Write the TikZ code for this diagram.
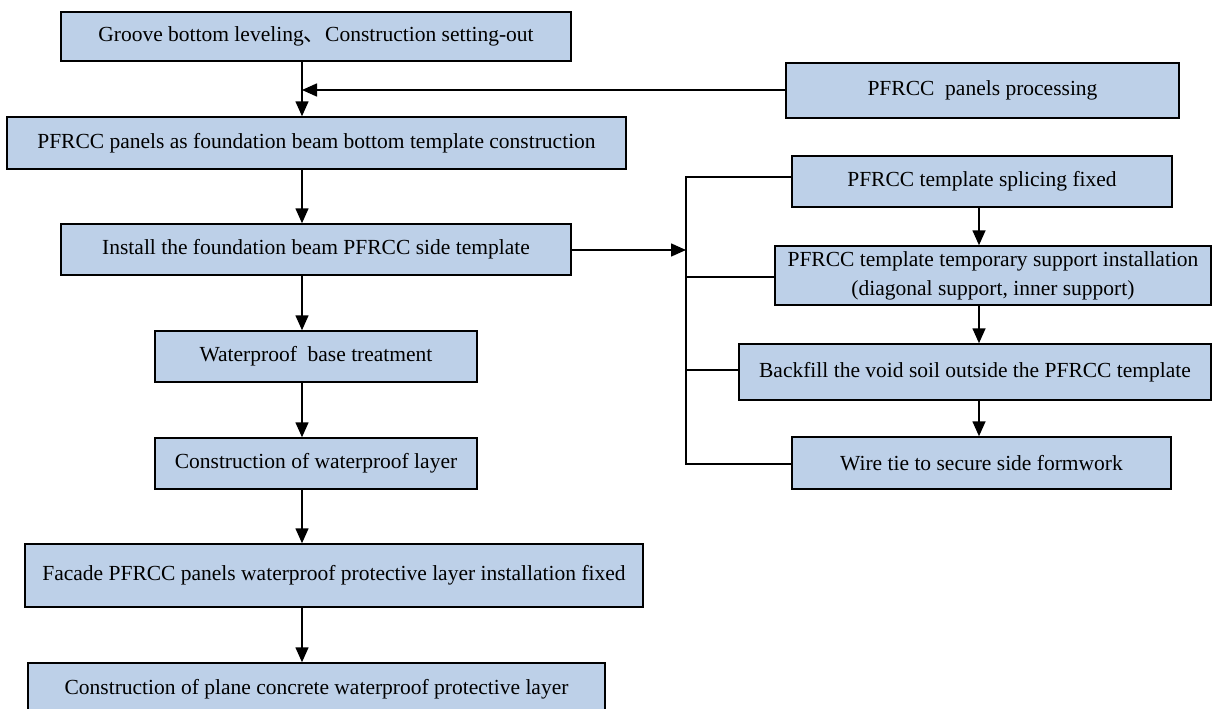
\documentclass[tikz,border=0pt]{standalone}
\usepackage{fontspec}
\setmainfont{Liberation Serif}
\newfontfamily\cjkfont{Noto Sans CJK SC}
\usetikzlibrary{arrows.meta}
\definecolor{boxfill}{RGB}{189,208,232}
\tikzset{
  box/.style={draw=black, fill=boxfill, line width=1.5pt, rectangle, inner sep=0pt,
    align=center, font=\fontsize{21.5}{29}\selectfont},
  arr/.style={line width=1.6pt, -{Triangle[length=15pt,width=13pt]}},
  ln/.style={line width=1.6pt}
}
\begin{document}
\begin{tikzpicture}[x=1pt,y=-1pt]
\useasboundingbox (0,0) rectangle (1213,709);
% main column
\node[box, minimum width=510pt, minimum height=49pt] (b1) at (316,36.5) {Groove bottom leveling{\cjkfont 、}Construction setting-out};
\node[box, minimum width=619pt, minimum height=52pt] (b2) at (316.5,143) {PFRCC panels as foundation beam bottom template construction};
\node[box, minimum width=510pt, minimum height=51pt] (b3) at (316,249.5) {Install the foundation beam PFRCC side template};
\node[box, minimum width=322pt, minimum height=51pt] (b4) at (316,356.5) {Waterproof\ \ base treatment};
\node[box, minimum width=322pt, minimum height=51pt] (b5) at (316,463.5) {Construction of waterproof layer};
\node[box, minimum width=618pt, minimum height=63pt] (b6) at (334,575.5) {Facade PFRCC panels waterproof protective layer installation fixed};
\node[box, minimum width=577pt, minimum height=52pt] (b7) at (316.5,689) {Construction of plane concrete waterproof protective layer};
% right column
\node[box, minimum width=393pt, minimum height=55pt] (proc) at (982.5,90.5) {PFRCC\ \ panels processing};
\node[box, minimum width=380pt, minimum height=51pt] (splice) at (982,181.5) {PFRCC template splicing fixed};
\node[box, minimum width=436pt, minimum height=59pt] (support) at (993,275.5) {PFRCC template temporary support installation\\(diagonal support, inner support)};
\node[box, minimum width=472pt, minimum height=56pt] (backfill) at (975,372) {Backfill the void soil outside the PFRCC template};
\node[box, minimum width=379pt, minimum height=52pt] (wire) at (981.5,463) {Wire tie to secure side formwork};
% helper coordinates
\coordinate (m) at (302,0);
\coordinate (rc) at (979,0);
\coordinate (bt) at (686,177);
\coordinate (bb) at (686,464);
\coordinate (h1) at (0,90);
\coordinate (h2) at (0,250);
\coordinate (t2) at (0,277);
\coordinate (t3) at (0,370);
% main flow
\draw[arr] (b1.south -| m) -- (b2.north -| m);
\draw[arr] (proc.west |- h1) -- (m |- h1);
\draw[arr] (b2.south -| m) -- (b3.north -| m);
\draw[arr] (b3.south -| m) -- (b4.north -| m);
\draw[arr] (b4.south -| m) -- (b5.north -| m);
\draw[arr] (b5.south -| m) -- (b6.north -| m);
\draw[arr] (b6.south -| m) -- (b7.north -| m);
% branch
\draw[arr] (b3.east |- h2) -- (bt |- h2);
\draw[ln] (bt -| splice.west) -- (bt) -- (bb) -- (bb -| wire.west);
\draw[ln] (support.west |- t2) -- (bt |- t2);
\draw[ln] (backfill.west |- t3) -- (bt |- t3);
% right column flow
\draw[arr] (splice.south -| rc) -- (support.north -| rc);
\draw[arr] (support.south -| rc) -- (backfill.north -| rc);
\draw[arr] (backfill.south -| rc) -- (wire.north -| rc);
\end{tikzpicture}
\end{document}
